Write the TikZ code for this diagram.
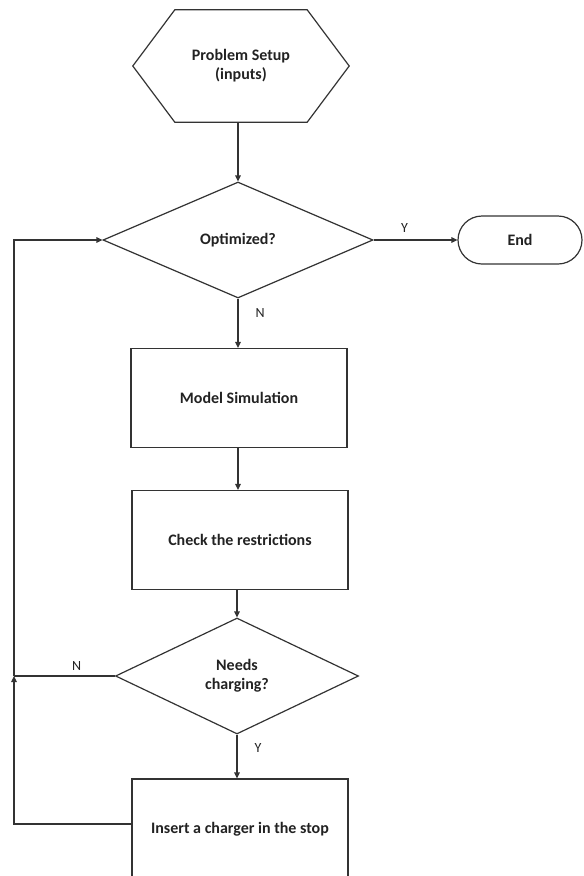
\documentclass[tikz,border=0pt]{standalone}
\usepackage{fontspec}
\setmainfont{Carlito}
\usetikzlibrary{shapes.geometric,arrows.meta}
\definecolor{ink}{HTML}{222222}
\definecolor{edge}{HTML}{333333}
\tikzset{
  base/.style={font=\fontsize{16}{19}\selectfont\bfseries, text=ink, align=center, inner sep=0pt},
  procbox/.style={base, draw=edge, line width=1.2pt, minimum width=216pt, minimum height=99pt},
  decision/.style={base, draw=edge, line width=1.2pt, diamond, aspect=2},
  terminal/.style={base, draw=edge, line width=1.2pt, rounded corners=24pt, minimum width=124pt, minimum height=48pt},
  conn/.style={draw=edge, line width=1.2pt},
  arr/.style={conn, -{Triangle[length=6pt,width=5.5pt]}},
  lbl/.style={font=\fontsize{14}{16}\selectfont, text=ink, inner sep=0pt}
}
\begin{document}
\begin{tikzpicture}[x=1pt,y=-1pt]
\useasboundingbox (0,0) rectangle (584,876);
\clip (0,0) rectangle (584,876);
% hexagon start
\node[base, minimum width=216pt, minimum height=112pt] (hex) at (241,66) {Problem Setup\\(inputs)};
\draw[conn, line join=miter] (hex.west) -- ([xshift=42pt]hex.north west) -- ([xshift=-42pt]hex.north east) -- (hex.east) -- ([xshift=-42pt]hex.south east) -- ([xshift=42pt]hex.south west) -- cycle;
% decisions
\node[decision, minimum width=270pt, minimum height=116pt] (opt) at (238,240) {Optimized?};
\node[terminal] (end) at (520,240) {End};
\node[procbox] (sim) at (239,398) {Model Simulation};
\node[procbox] (chk) at (240,540) {Check the restrictions};
\node[decision, minimum width=243pt, minimum height=116pt] (need) at (237,676) {Needs\\charging?};
\node[procbox, minimum height=100pt] (ins) at (240,829) {Insert a charger in the stop};
\coordinate (lb) at (14,676);
\coordinate (lt) at (14,240);
\coordinate (lbot) at (14,824);
% connectors
\draw[arr] (hex.south -| opt.north) -- (opt.north);
\draw[arr] (opt.east) -- node[lbl, above=7pt, pos=0.37] (ylab) {Y} (end.west);
\draw[arr] (opt.south) -- node[lbl, right=17pt, pos=0.3] (nlab) {N} (sim.north -| opt.south);
\draw[arr] (sim.south -| opt.south) -- (chk.north -| opt.south);
\draw[arr] (chk.south -| need.north) -- (need.north);
\draw[arr] (need.south) -- node[lbl, right=17pt, pos=0.3] (ylab2) {Y} (ins.north -| need.south);
\draw[conn] (need.west) -- node[lbl, above=5pt, pos=0.38] (nlab2) {N} (lb);
\draw[arr] (ins.west |- lbot) -- (lbot) -- (lb);
\draw[arr] (lb) -- (lt) -- (opt.west);
\end{tikzpicture}
\end{document}
